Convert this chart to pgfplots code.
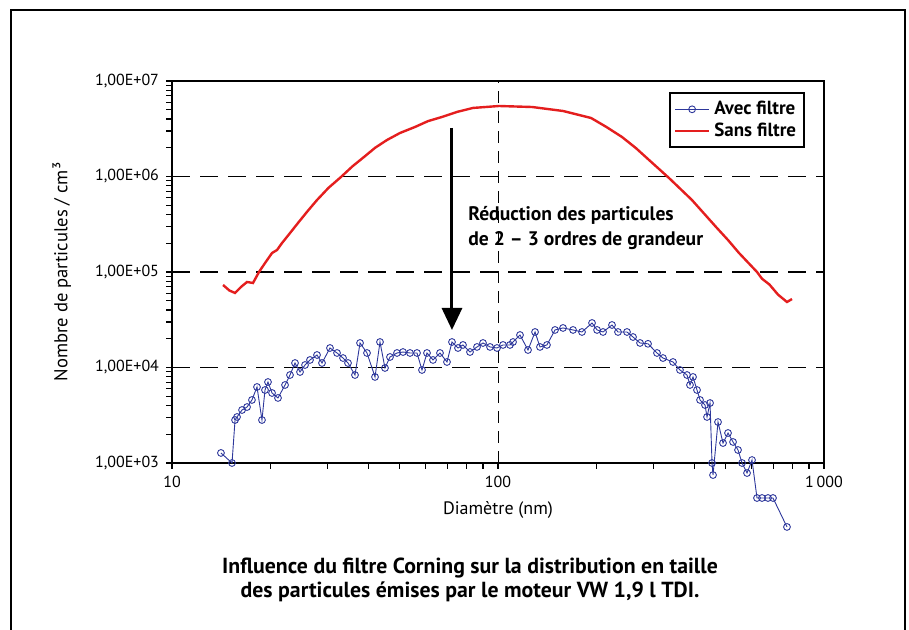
\documentclass[border=0pt]{standalone}
\usepackage{fontspec}
\setmainfont{PT Sans}
\usepackage{pgfplots}
\pgfplotsset{compat=1.18}
\usetikzlibrary{arrows.meta}
\definecolor{rouge}{RGB}{228,30,30}
\definecolor{bleu}{RGB}{45,55,155}

\begin{document}
\begin{tikzpicture}[x=1pt,y=1pt]
\useasboundingbox (0,0) rectangle (454.5,315);
\draw[line width=1pt] (5.5,-10) rectangle (452.5,310);
\begin{axis}[
    at={(86pt,83.5pt)}, anchor=south west,
    scale only axis, width=326pt, height=191pt,
    xmode=log, ymode=log,
    xmin=10, xmax=1000, ymin=1e3, ymax=1e7,
    clip=false,
    xtick={10,100,1000}, xticklabels={10,100,1\,000},
    ytick={1e3,1e4,1e5,1e6,1e7},
    yticklabels={{1,00E+03},{1,00E+04},{1,00E+05},{1,00E+06},{1,00E+07}},
    minor xtick={}, minor ytick={},
    tick align=outside, xtick pos=bottom, ytick pos=left,
    major tick length=3pt,
    tick style={black, line width=0.6pt},
    axis line style={line width=0.6pt},
    ticklabel style={font=\fontsize{8}{9}\selectfont},
    /pgf/number format/assume math mode=true,
    xlabel={Diamètre (nm)},
    ylabel={Nombre de particules / cm³},
    xlabel style={at={(axis description cs:0.5,-0.123)}, anchor=center, font=\fontsize{9}{10}\selectfont},
    ylabel style={at={(axis description cs:-0.169,0.5)}, anchor=center, font=\fontsize{9.3}{10}\selectfont},
    legend style={at={(0.762,0.971)}, anchor=north west, draw=black, line width=1pt,
        font=\bfseries\fontsize{9.5}{10}\selectfont, inner sep=2pt, row sep=-1.5pt},
    legend cell align=left,
]
% grille
\draw[black, line width=0.8pt, dash pattern=on 9pt off 5pt] (axis cs:10,1e4) -- (axis cs:1000,1e4);
\draw[black, line width=0.8pt, dash pattern=on 9pt off 5pt] (axis cs:10,1e5) -- (axis cs:1000,1e5);
\draw[black, line width=0.8pt, dash pattern=on 9pt off 5pt] (axis cs:10,1e6) -- (axis cs:1000,1e6);
\draw[black, line width=0.5pt, dash pattern=on 6pt off 4pt] (axis cs:100,1e3) -- (axis cs:100,1e7);

% Avec filtre
\addplot[bleu, line width=0.45pt, mark=o, mark size=1.7pt, mark options={fill=white, line width=0.45pt}] coordinates {
(14.13,1274) (15.28,1000) (15.61,2818) (15.83,3034) (16.40,3589) (16.99,3855)
(17.59,4571) (18.23,6252) (18.88,2818) (19.29,5808) (19.70,7047) (20.27,5408)
(21.14,4797) (22.22,6561) (23.01,8340) (23.84,11140) (24.70,8974) (25.59,10620)
(26.50,11990) (27.85,13520) (28.85,11140) (30.52,16000) (32.08,14190) (33.47,12560)
(34.67,11140) (36.42,8340) (37.74,18060) (39.65,14190) (41.95,7962) (43.45,18490)
(45.01,9886) (46.63,12880) (49.00,14190) (51.12,14520) (53.71,14190) (56.43,14190)
(58.46,9419) (60.56,14190) (63.18,11990) (66.38,14190) (69.75,11420) (72.25,18490)
(75.39,16000) (78.09,17220) (82.05,14520) (86.22,16410) (89.94,18060) (94.52,16410)
(99.29,16000) (103.6,17220) (108.8,17220) (111.2,18490) (116.8,21880) (123.6,15240)
(129.9,23540) (134.5,16410) (141.3,17220) (149.6,24720) (158.3,25940) (169.9,24720)
(181.0,23540) (194.3,29240) (201.3,24720) (210.0,23540) (223.7,27860) (233.4,23540)
(248.7,23540) (259.5,20850) (272.7,18060) (288.5,17700) (307.4,14190) (320.7,12560)
(344.2,11420) (361.6,9419) (380.0,8340) (388.1,6561) (396.5,7962) (407.8,5808)
(416.6,4571) (431.5,4046) (437.7,3034) (447.1,4246) (453.4,1000) (456.6,748)
(473.0,2685) (490.0,1618) (507.6,2061) (526.0,1660) (544.8,1368) (560.5,1000)
(580.6,785) (601.4,1074) (623.0,430) (645.4,430) (673.3,430) (697.5,430) (770.0,214)
};
\addlegendentry{Avec filtre}

% Sans filtre
\addplot[rouge, line width=1.2pt, mark=none] coordinates {
(14.34,73100) (15.00,64000) (15.61,60300) (16.30,70000) (16.99,78600) (17.72,76700)
(18.49,100000) (19.29,124000) (20.27,158000) (21.00,170000) (21.75,201000) (23.00,255000)
(24.35,326000) (26.00,430000) (27.85,567000) (30.20,760000) (32.99,988000) (35.80,1.28e6)
(38.81,1.60e6) (42.00,2.00e6) (45.65,2.41e6) (50.00,2.85e6) (55.65,3.30e6) (61.00,3.80e6)
(67.33,4.20e6) (75.00,4.75e6) (83.82,5.22e6) (100.7,5.47e6) (127.2,5.34e6) (158.3,4.85e6)
(192.9,4.10e6) (215.0,3.30e6) (240.1,2.59e6) (265.0,1.98e6) (290.5,1.49e6) (334.6,9.64e5)
(393.6,5.67e5) (466.4,2.96e5) (507.6,2.16e5) (548.7,1.58e5) (623.0,1.00e5) (645.4,8.50e4)
(680.0,7.40e4) (722.5,5.80e4) (770.0,4.85e4) (797.6,5.21e4)
};
\addlegendentry{Sans filtre}

% fleche et texte
\draw[black, line width=1.5pt, -{Triangle[width=10pt,length=11pt]}] (axis cs:72.25,3.22e6) -- (axis cs:72.25,2.47e4);
\node[anchor=west, inner xsep=0pt, align=left, font=\bfseries\fontsize{9.8}{12.5}\selectfont] at (axis cs:80.9,2.92e5)
  {Réduction des particules\\de 2 -- 3 ordres de grandeur};
\end{axis}
\node[align=center, font=\bfseries\fontsize{10.9}{12}\selectfont] at (235,25)
  {Influence du filtre Corning sur la distribution en taille\\des particules émises par le moteur VW 1,9 l TDI.};
\end{tikzpicture}
\end{document}
